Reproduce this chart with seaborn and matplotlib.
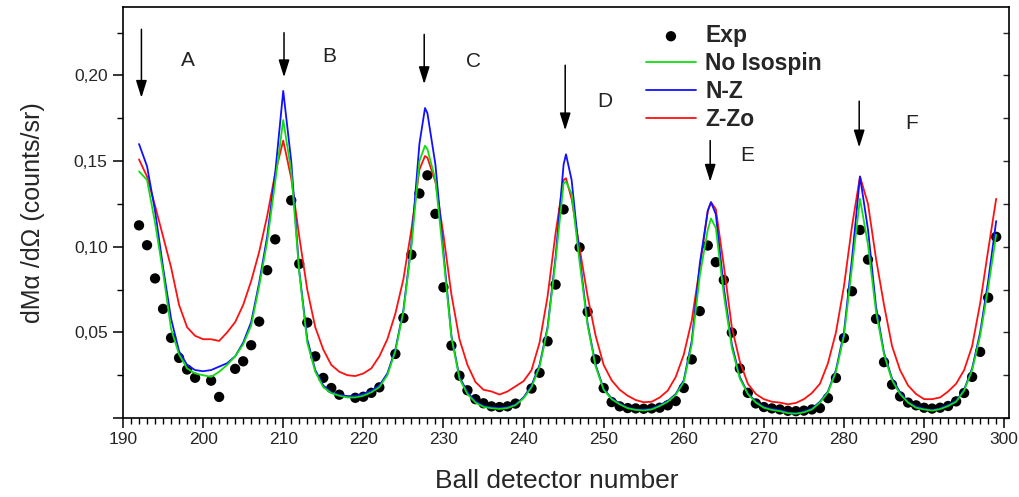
import numpy as np
import pandas as pd
import matplotlib
matplotlib.use("Agg")
import matplotlib.pyplot as plt
from matplotlib.ticker import MultipleLocator, FuncFormatter
import seaborn as sns

# Measured alpha yield per ball detector
exp_det = [192, 193, 194, 195, 196, 197, 198, 199, 201, 202, 204, 205, 206, 207, 208, 209,
           211, 212, 213, 214, 215, 216, 217, 219, 220, 221, 222, 224, 225, 226, 227, 228,
           229, 230, 231, 232, 233, 234, 235, 236, 237, 238, 239, 241, 242, 243, 244, 245,
           247, 248, 249, 250, 251, 252, 253, 254, 255, 256, 257, 258, 259, 260, 261, 262,
           263, 264, 265, 266, 267, 268, 269, 270, 271, 272, 273, 274, 275, 276, 277, 278,
           279, 280, 281, 282, 283, 284, 285, 286, 287, 288, 289, 290, 291, 292, 293, 294,
           295, 296, 297, 298, 299]
exp_yield = [0.1125, 0.1009, 0.0815, 0.0637, 0.0468, 0.0351, 0.0283, 0.0235, 0.0218, 0.0123,
             0.0287, 0.0331, 0.0425, 0.0563, 0.0863, 0.1043,
             0.1271, 0.0900, 0.0557, 0.0360, 0.0234, 0.0175, 0.0136, 0.0118, 0.0124, 0.0147,
             0.0179, 0.0374, 0.0584, 0.0954, 0.1311, 0.1417,
             0.1192, 0.0763, 0.0423, 0.0247, 0.0162, 0.0110, 0.0086, 0.0068, 0.0064, 0.0068,
             0.0084, 0.0172, 0.0264, 0.0448, 0.0779, 0.1218,
             0.0996, 0.0620, 0.0342, 0.0175, 0.0093, 0.0068, 0.0058, 0.0056, 0.0054, 0.0056,
             0.0060, 0.0074, 0.0099, 0.0175, 0.0342, 0.0624,
             0.1007, 0.0910, 0.0806, 0.0499, 0.0289, 0.0147, 0.0085, 0.0064, 0.0056, 0.0050,
             0.0042, 0.0040, 0.0043, 0.0050, 0.0058, 0.0116,
             0.0234, 0.0467, 0.0740, 0.1098, 0.0925, 0.0579, 0.0326, 0.0195, 0.0126, 0.0090,
             0.0074, 0.0060, 0.0055, 0.0060, 0.0070, 0.0097,
             0.0146, 0.0240, 0.0386, 0.0703, 0.1058]

# Model detector grid: every detector plus the C, D and E ring maxima
model_det = sorted(list(range(192, 300)) + [227.7, 245.3, 263.4])

no_isospin = [0.144, 0.139, 0.114, 0.085, 0.052, 0.037, 0.029, 0.026, 0.025, 0.024,
              0.027, 0.031, 0.036, 0.043, 0.054, 0.077, 0.103, 0.138, 0.174, 0.144,
              0.085, 0.044, 0.027, 0.018, 0.0145, 0.013, 0.012, 0.012, 0.013, 0.015,
              0.018, 0.025, 0.039, 0.062, 0.100, 0.150, 0.159, 0.157, 0.139, 0.094,
              0.047, 0.023, 0.014, 0.009, 0.0065, 0.0057, 0.0053, 0.0058, 0.0075, 0.0115,
              0.018, 0.030, 0.052, 0.092, 0.137, 0.138, 0.131, 0.091, 0.054, 0.030,
              0.0165, 0.011, 0.008, 0.0057, 0.0047, 0.0044, 0.005, 0.007, 0.0095, 0.0135,
              0.021, 0.043, 0.083, 0.110, 0.1165, 0.111, 0.072, 0.041, 0.023, 0.014,
              0.009, 0.006, 0.0047, 0.004, 0.0028, 0.0025, 0.0033, 0.005, 0.009, 0.015,
              0.027, 0.048, 0.088, 0.128, 0.101, 0.062, 0.037, 0.022, 0.014, 0.009,
              0.006, 0.005, 0.0043, 0.0052, 0.007, 0.0095, 0.016, 0.028, 0.048, 0.076,
              0.107]

n_minus_z = [0.160, 0.147, 0.121, 0.088, 0.058, 0.039, 0.031, 0.028, 0.0273, 0.028,
             0.030, 0.032, 0.036, 0.044, 0.056, 0.079, 0.106, 0.143, 0.191, 0.150,
             0.086, 0.046, 0.028, 0.019, 0.015, 0.0135, 0.0128, 0.0128, 0.014, 0.016,
             0.019, 0.026, 0.040, 0.063, 0.102, 0.160, 0.181, 0.178, 0.148, 0.097,
             0.048, 0.024, 0.015, 0.0097, 0.007, 0.0062, 0.0058, 0.0063, 0.008, 0.012,
             0.019, 0.031, 0.053, 0.094, 0.148, 0.154, 0.139, 0.094, 0.055, 0.031,
             0.017, 0.0115, 0.0085, 0.006, 0.005, 0.0049, 0.0055, 0.0075, 0.010, 0.014,
             0.022, 0.045, 0.090, 0.121, 0.126, 0.119, 0.076, 0.043, 0.024, 0.0145,
             0.0095, 0.0065, 0.0052, 0.0046, 0.0032, 0.0028, 0.0037, 0.0055, 0.0095, 0.0155,
             0.028, 0.050, 0.093, 0.141, 0.110, 0.065, 0.038, 0.023, 0.015, 0.0093,
             0.0066, 0.0054, 0.0046, 0.0056, 0.0075, 0.010, 0.0166, 0.029, 0.050, 0.080,
             0.115]

z_minus_z0 = [0.151, 0.141, 0.124, 0.106, 0.088, 0.066, 0.053, 0.048, 0.046, 0.046,
              0.045, 0.050, 0.056, 0.066, 0.080, 0.097, 0.118, 0.143, 0.162, 0.140,
              0.106, 0.075, 0.053, 0.040, 0.031, 0.027, 0.025, 0.0245, 0.026, 0.029,
              0.036, 0.046, 0.061, 0.081, 0.110, 0.145, 0.153, 0.152, 0.138, 0.107,
              0.072, 0.046, 0.031, 0.021, 0.0165, 0.0155, 0.0137, 0.0155, 0.0185, 0.0215,
              0.028, 0.044, 0.071, 0.108, 0.139, 0.140, 0.128, 0.099, 0.071, 0.048,
              0.031, 0.022, 0.0165, 0.013, 0.0105, 0.0092, 0.0095, 0.012, 0.016, 0.024,
              0.037, 0.057, 0.088, 0.121, 0.126, 0.122, 0.089, 0.053, 0.033, 0.020,
              0.014, 0.011, 0.0095, 0.009, 0.008, 0.0088, 0.011, 0.0146, 0.020, 0.032,
              0.050, 0.077, 0.112, 0.141, 0.125, 0.093, 0.066, 0.042, 0.028, 0.019,
              0.014, 0.011, 0.011, 0.012, 0.0155, 0.020, 0.028, 0.042, 0.067, 0.098,
              0.128]

# Ring markers: arrow position, arrow tail/tip heights and ring letters
ring_names = ["A", "B", "C", "D", "E", "F"]
ring_arrow_det = [192.3, 210.1, 227.6, 245.2, 263.3, 281.9]
ring_arrow_tail = [0.227, 0.225, 0.224, 0.206, 0.162, 0.185]
ring_arrow_tip = [0.187, 0.199, 0.195, 0.168, 0.138, 0.158]
ring_text_det = [198.1, 215.7, 233.8, 250.1, 267.9, 288.5]
ring_text_y = [0.209, 0.211, 0.208, 0.185, 0.153, 0.172]

sns.set_style("ticks")
plt.rcParams["font.family"] = ["Liberation Sans", "DejaVu Sans"]

fig = plt.figure(figsize=(10.19, 4.97), dpi=100)
ax = fig.add_axes([123 / 1019, 79 / 497, 886 / 1019, 411 / 497])

exp_df = pd.DataFrame({"det": exp_det, "yield": exp_yield})
model_df = pd.DataFrame({"det": model_det, "No Isospin": no_isospin,
                         "N-Z": n_minus_z, "Z-Zo": z_minus_z0})

sns.scatterplot(data=exp_df, x="det", y="yield", ax=ax, color="black", s=55,
                edgecolor="none", label="Exp", zorder=2)
line_colors = {"Z-Zo": "#ff1010", "N-Z": "#1010ff", "No Isospin": "#10dd10"}
for name in ["Z-Zo", "N-Z", "No Isospin"]:
    sns.lineplot(data=model_df, x="det", y=name, ax=ax, color=line_colors[name],
                 lw=1.3, label=name, estimator=None, sort=True, zorder=3)

for name, xa, yt, yh, xt, ytxt in zip(ring_names, ring_arrow_det, ring_arrow_tail,
                                      ring_arrow_tip, ring_text_det, ring_text_y):
    ax.annotate("", xy=(xa, yh), xytext=(xa, yt),
                arrowprops=dict(arrowstyle="-|>,head_length=0.7,head_width=0.22",
                                color="black", lw=1.1, mutation_scale=15,
                                shrinkA=0, shrinkB=0))
    ax.text(xt, ytxt, name, ha="center", va="center", fontsize=15, color="#222222")

ax.set_xlim(190, 300.6)
ax.set_ylim(0, 0.24)
ax.xaxis.set_major_locator(MultipleLocator(10))
ax.xaxis.set_minor_locator(MultipleLocator(1))
ax.yaxis.set_major_locator(MultipleLocator(0.05))
ax.yaxis.set_minor_locator(MultipleLocator(0.025))
ax.yaxis.set_major_formatter(FuncFormatter(
    lambda v, p: "" if abs(v) < 1e-9 else f"{v:.2f}".replace(".", ",")))
ax.tick_params(axis="both", which="major", direction="out", length=7, width=1.1,
               labelsize=12.5, color="black")
ax.tick_params(axis="x", which="major", pad=3.3)
ax.tick_params(axis="y", which="major", pad=4)
ax.tick_params(axis="both", which="minor", direction="out", length=4, width=1.0,
               color="black")
ax.tick_params(axis="y", which="both", right=False, left=True)

right = ax.secondary_yaxis("right")
right.yaxis.set_major_locator(MultipleLocator(0.05))
right.yaxis.set_minor_locator(MultipleLocator(0.025))
right.tick_params(axis="y", which="both", direction="in", length=4, width=1.0,
                  labelright=False)
right.spines["right"].set_visible(False)

for sp in ax.spines.values():
    sp.set_visible(True)
    sp.set_linewidth(1.2)
    sp.set_color("black")

ax.set_xlabel("Ball detector number", fontsize=19)
ax.set_ylabel("dMα /dΩ (counts/sr)", fontsize=18)
ax.xaxis.set_label_coords(0.489, -0.125)
ax.yaxis.set_label_coords(-0.088, 0.5)

handles, labels = ax.get_legend_handles_labels()
order = ["Exp", "No Isospin", "N-Z", "Z-Zo"]
hmap = dict(zip(labels, handles))
leg = ax.legend([hmap[k] for k in order], order, loc="upper left",
                bbox_to_anchor=(0.590, 0.958), frameon=False, borderpad=0,
                borderaxespad=0, handlelength=2.2, handletextpad=0.4,
                labelspacing=0.21, prop={"weight": "bold", "size": 16.5})

fig.savefig("out.png", dpi=100)
